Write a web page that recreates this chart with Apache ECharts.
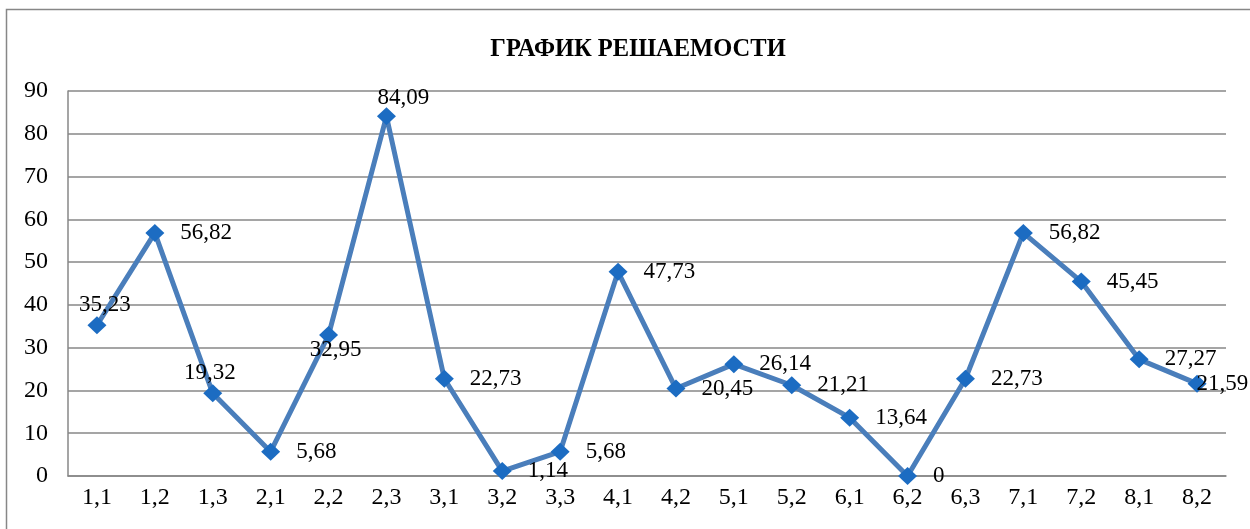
<!DOCTYPE html>
<html>
<head>
<meta charset="utf-8">
<script src="https://cdn.jsdelivr.net/npm/echarts@6/dist/echarts.min.js"></script>
<style>
  html, body { margin: 0; padding: 0; background: #fff; }
  #chart { width: 1250px; height: 529px; }
</style>
</head>
<body>
<div id="chart"></div>
<script>
// Task numbers (section,item) and the share of solved answers, %
const categories = ['1,1','1,2','1,3','2,1','2,2','2,3','3,1','3,2','3,3','4,1',
                    '4,2','5,1','5,2','6,1','6,2','6,3','7,1','7,2','8,1','8,2'];
const solvedPct = [35.23, 56.82, 19.32, 5.68, 32.95, 84.09, 22.73, 1.14, 5.68, 47.73,
                   20.45, 26.14, 21.21, 13.64, 0, 22.73, 56.82, 45.45, 27.27, 21.59];
const yTicks = { min: 0, max: 90, step: 10 };
const titleText = 'ГРАФИК РЕШАЕМОСТИ';

const serif = '"Liberation Serif", "Times New Roman", serif';
const gray = '#878787';

// Default value labels sit to the right of the marker; a few points use other spots
const labelTweaks = {
  0: { position: 'top', distance: 0, offset: [8, 0] },
  2: { position: 'top', distance: 0, offset: [-3, 0] },
  4: { position: 'bottom', distance: -6, offset: [7, 0] },
  5: { position: 'top', distance: -2, offset: [17, 0] },
  19: { position: 'right', distance: -10, offset: [0, 0] }
};

const seriesData = solvedPct.map((v, i) => {
  const item = { value: v };
  if (labelTweaks[i]) item.label = labelTweaks[i];
  return item;
});

const chart = echarts.init(document.getElementById('chart'), null, { renderer: 'canvas' });
chart.setOption({
  animation: false,
  backgroundColor: '#ffffff',
  title: {
    text: titleText,
    left: 633,
    textAlign: 'center',
    top: 32,
    textStyle: { fontFamily: serif, fontWeight: 'bold', fontSize: 24.5, color: '#000' }
  },
  graphic: [{
    type: 'rect',
    shape: { x: 6.5, y: 9.5, width: 1300, height: 600 },
    style: { fill: 'none', stroke: gray, lineWidth: 1.5 },
    z: -1
  }],
  grid: { left: 68, right: 24, top: 91, bottom: 53 },
  xAxis: {
    type: 'category',
    data: categories,
    boundaryGap: true,
    axisLine: { lineStyle: { color: gray, width: 1.5 } },
    axisTick: { show: false },
    axisLabel: { fontFamily: serif, fontSize: 24, color: '#000', margin: 10 }
  },
  yAxis: {
    type: 'value',
    min: yTicks.min,
    max: yTicks.max,
    interval: yTicks.step,
    axisLine: { show: true, lineStyle: { color: gray, width: 1.5 } },
    axisTick: { show: false },
    splitLine: { lineStyle: { color: gray, width: 1.5 } },
    axisLabel: { fontFamily: serif, fontSize: 24, color: '#000', margin: 20 }
  },
  series: [{
    type: 'line',
    data: seriesData,
    lineStyle: { color: '#4a7ebb', width: 5 },
    symbol: 'diamond',
    symbolSize: [19, 18],
    itemStyle: { color: '#1c6cc2' },
    label: {
      show: true,
      position: 'right',
      distance: 16,
      fontFamily: serif,
      fontSize: 23,
      color: '#000',
      formatter: p => String(p.value).replace('.', ',')
    },
    z: 3
  }]
});
</script>
</body>
</html>
